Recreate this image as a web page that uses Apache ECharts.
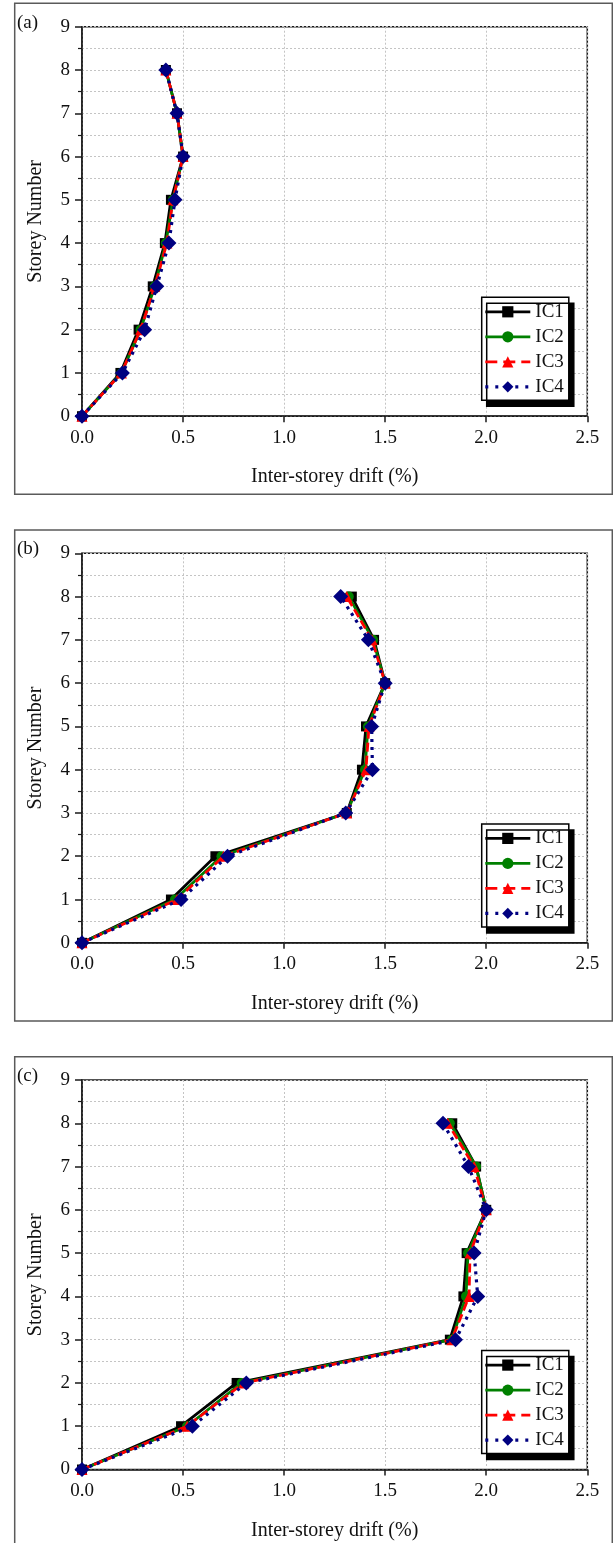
<!DOCTYPE html>
<html>
<head>
<meta charset="utf-8">
<script src="https://cdn.jsdelivr.net/npm/echarts@6/dist/echarts.min.js"></script>
<style>
  html, body { margin: 0; padding: 0; background: #fff; }
  #chart { width: 613px; height: 1543px; }
</style>
</head>
<body>
<div id="chart"></div>
<script>
// Storey levels (ground = 0) and panel / series names
const storeys = [0, 1, 2, 3, 4, 5, 6, 7, 8];
const panelLabels = ['(a)', '(b)', '(c)'];
const seriesNames = ['IC1', 'IC2', 'IC3', 'IC4'];
const xTickValues = [0, 0.5, 1.0, 1.5, 2.0, 2.5];
const yTickValues = [0, 1, 2, 3, 4, 5, 6, 7, 8, 9];

// Peak inter-storey drift (%) per storey, panel (a)
const a_IC1 = [0, 0.19, 0.28, 0.35, 0.41, 0.44, 0.50, 0.47, 0.415];
const a_IC2 = [0, 0.195, 0.29, 0.36, 0.415, 0.45, 0.50, 0.47, 0.415];
const a_IC3 = [0, 0.195, 0.29, 0.36, 0.42, 0.45, 0.50, 0.47, 0.415];
const a_IC4 = [0, 0.20, 0.31, 0.37, 0.43, 0.46, 0.50, 0.47, 0.415];

// Panel (b)
const b_IC1 = [0, 0.44, 0.66, 1.31, 1.385, 1.405, 1.50, 1.445, 1.335];
const b_IC2 = [0, 0.46, 0.69, 1.31, 1.40, 1.415, 1.50, 1.44, 1.32];
const b_IC3 = [0, 0.47, 0.70, 1.31, 1.405, 1.42, 1.50, 1.435, 1.31];
const b_IC4 = [0, 0.49, 0.72, 1.305, 1.437, 1.433, 1.50, 1.417, 1.28];

// Panel (c)
const c_IC1 = [0, 0.49, 0.765, 1.82, 1.887, 1.903, 2.00, 1.95, 1.832];
const c_IC2 = [0, 0.52, 0.79, 1.83, 1.90, 1.91, 2.00, 1.95, 1.82];
const c_IC3 = [0, 0.52, 0.80, 1.83, 1.915, 1.92, 2.00, 1.94, 1.81];
const c_IC4 = [0, 0.546, 0.813, 1.848, 1.958, 1.94, 2.00, 1.912, 1.786];

const panelData = [
  [a_IC1, a_IC2, a_IC3, a_IC4],
  [b_IC1, b_IC2, b_IC3, b_IC4],
  [c_IC1, c_IC2, c_IC3, c_IC4]
];

const FONT = "'Liberation Serif', 'Times New Roman', serif";
const AXIS_COLOR = '#1a1a1a';
const GRID_COLOR = '#c4c4c4';

// layout of the three stacked panels
const gridLeft = 82;
const gridWidth = 505.3;
const gridHeight = 389.5;
const gridTops = [26.7, 553.3, 1080];
const frameTops = [3.3, 530, 1056.7];
const frameHeight = 491;

const seriesStyles = [
  { color: '#000000', symbol: 'rect', size: 10, lineType: 'solid', width: 2.8 },
  { color: '#008000', symbol: 'circle', size: 10, lineType: 'solid', width: 2.8 },
  { color: '#ff0000', symbol: 'triangle', size: 11, lineType: [9, 4], width: 2.8 },
  { color: '#000080', symbol: 'diamond', size: 15, lineType: [3, 5], width: 3.2 }
];

const grids = [], xAxes = [], yAxes = [], series = [], legends = [], graphics = [];

gridTops.forEach((top, p) => {
  grids.push({
    left: gridLeft, top: top, width: gridWidth, height: gridHeight,
    show: true, borderColor: AXIS_COLOR, borderWidth: 1.5, backgroundColor: 'transparent'
  });
  xAxes.push({
    gridIndex: p, type: 'value', min: 0, max: 2.5, interval: 0.5,
    name: 'Inter-storey drift (%)', nameLocation: 'middle', nameGap: 51,
    nameTextStyle: { fontFamily: FONT, fontSize: 20, color: '#111' },
    axisLine: { show: true, onZero: false, lineStyle: { color: AXIS_COLOR, width: 1.5 } },
    axisTick: { show: true, inside: false, length: 6, lineStyle: { color: AXIS_COLOR, width: 1.5 } },
    axisLabel: {
      fontFamily: FONT, fontSize: 19, color: '#111', margin: 12,
      formatter: v => (xTickValues.indexOf(v) >= 0 ? v.toFixed(1) : '')
    },
    splitLine: { show: true, lineStyle: { color: GRID_COLOR, width: 1, type: [2, 2] } }
  });
  yAxes.push({
    gridIndex: p, type: 'value', min: 0, max: 9, interval: 1,
    name: 'Storey Number', nameLocation: 'middle', nameGap: 36,
    nameTextStyle: { fontFamily: FONT, fontSize: 20, color: '#111' },
    axisLine: { show: true, onZero: false, lineStyle: { color: AXIS_COLOR, width: 1.5 } },
    axisTick: { show: true, inside: false, length: 7, lineStyle: { color: AXIS_COLOR, width: 1.5 } },
    minorTick: { show: true, splitNumber: 2, length: 4, lineStyle: { color: AXIS_COLOR, width: 1.2 } },
    axisLabel: {
      fontFamily: FONT, fontSize: 19, color: '#111', margin: 12,
      formatter: v => (yTickValues.indexOf(v) >= 0 ? String(v) : '')
    },
    splitLine: { show: true, lineStyle: { color: GRID_COLOR, width: 1, type: [2, 2] } },
    minorSplitLine: { show: true, lineStyle: { color: GRID_COLOR, width: 1, type: [2, 2] } }
  });

  panelData[p].forEach((vals, s) => {
    const st = seriesStyles[s];
    series.push({
      type: 'line', name: seriesNames[s], xAxisIndex: p, yAxisIndex: p,
      data: storeys.map((k, i) => [vals[i], k]),
      symbol: st.symbol, symbolSize: st.size, showSymbol: true,
      clip: false, animation: false, z: 2 + s,
      lineStyle: { color: st.color, width: st.width, type: st.lineType },
      itemStyle: { color: st.color }
    });
  });

  legends.push({
    orient: 'vertical', left: 481.7, top: top + 270.6,
    data: seriesNames.map((n, s) => ({
      name: n,
      lineStyle: { width: seriesStyles[s].width, type: seriesStyles[s].lineType === 'solid' ? 'solid' : (s === 2 ? [12, 6] : [3, 7]) }
    })),
    selectedMode: false,
    itemWidth: 45, itemHeight: 14, itemGap: 6,
    padding: [5, 5, 4, 2],
    textStyle: { fontFamily: FONT, fontSize: 19, color: '#111' },
    backgroundColor: '#ffffff', borderColor: '#000000', borderWidth: 1.5, borderRadius: 0,
    shadowColor: '#000000', shadowBlur: 0, shadowOffsetX: 5, shadowOffsetY: 6
  });

  // panel frame and letter
  graphics.push({
    type: 'rect', silent: true, z: -1,
    shape: { x: 14.7, y: frameTops[p], width: 597.6, height: frameHeight },
    style: { fill: 'none', stroke: '#5a5a5a', lineWidth: 1.5 }
  });
  graphics.push({
    type: 'text', silent: true, left: 17, top: frameTops[p] + 10,
    style: { text: panelLabels[p], font: '19px ' + FONT, fill: '#111' }
  });
});

const chart = echarts.init(document.getElementById('chart'), null, { renderer: 'canvas' });
chart.setOption({
  animation: false,
  backgroundColor: '#ffffff',
  grid: grids,
  xAxis: xAxes,
  yAxis: yAxes,
  legend: legends,
  graphic: graphics,
  series: series
});
</script>
</body>
</html>
